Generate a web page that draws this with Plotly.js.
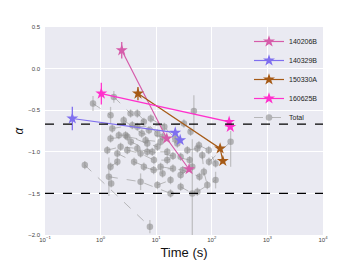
<!DOCTYPE html>
<html>
<head>
<meta charset="utf-8">
<script src="https://cdn.plot.ly/plotly-3.0.1.min.js"></script>
<style>html,body{margin:0;padding:0;background:#fff;}#chart{width:360px;height:270px;}</style>
</head>
<body>
<div id="chart"></div>
<script>
// ---- data ----
const burstNames = ['140206B', '140329B', '150330A', '160625B'];
const burstColors = ['#D65CAA', '#7F6FEF', '#A65A16', '#FF30CC'];

const t140206B = [2.4, 15.5, 39];
const a140206B = [0.22, -0.84, -1.21];
const e140206B = [0.1, 0.03, 0.03];

const t140329B = [0.31, 22, 27];
const a140329B = [-0.60, -0.77, -0.86];
const e140329B = [0.14, 0.03, 0.03];

const t150330A = [4.7, 141, 158];
const a150330A = [-0.30, -0.96, -1.11];
const e150330A = [0.08, 0.03, 0.03];

const t160625B = [1.03, 205, 215];
const a160625B = [-0.30, -0.64, -0.70];
const e160625B = [0.13, 0.03, 0.03];

const totalTime = [0.73,1.51,null, 1.73,3.46,6.0,null, 1.62,3.72,7.4,null, 1.51,3.02,6.45,12,null, 4.57,10.5,null, 4.57,31.5,41.5,null, 47.6,null, 58.7,88,117,null, 89,218,null, 2.13,2.81,6.9,10.5,null, 1.32,2.29,4.57,6.9,15.8,null, 36.3,55,null, 3.02,5.24,9.1,15.8,27.5,null, 67.3,72,83,null, 27.5,44.6,null, 10.5,18.1,null, 55,117,null, 1.41,5.24,18.1,null, 27.5,44.6,null, 1.51,2.0,null, 1.55,null, 0.52,7.7,null,
  2.0,4.0,9.0,20,null, 2.6,5.5,13,24,null, 8.0,14,22,null, 3.5,8.5,20,40,null, 12,30,60,null, 6.0,13];
const totalAlpha = [-0.42,-0.56,null, -0.34,-0.54,-0.64,null, -0.72,-0.68,-0.74,null, -0.84,-0.82,-0.86,-0.88,null, -0.54,-0.78,null, -0.70,-0.66,-0.76,null, -0.51,null, -0.92,-0.98,-1.14,null, -1.12,-0.88,null, -0.80,-0.80,-0.90,-0.94,null, -0.98,-0.94,-0.96,-1.00,-1.00,null, -0.98,-0.96,null, -0.98,-1.02,-1.10,-1.10,-1.06,null, -1.04,-1.24,-1.40,null, -1.28,-1.18,null, -1.40,-1.34,null, -1.48,-1.34,null, -1.30,-1.36,-1.50,null, -1.42,-1.50,null, -1.18,-1.12,null, -1.38,null, -1.16,-1.90,null,
  -1.02,-1.12,-1.22,-1.20,null, -0.62,-0.78,-0.82,-0.90,null, -0.60,-0.70,-0.84,null, -0.88,-1.00,-1.05,-1.10,null, -1.18,-1.22,-1.30,null, -1.18,-1.26];
const totalErrUp = [0.09,0.1,null, 0.07,0.05,0.05,null, 0.05,0.05,0.05,null, 0.05,0.05,0.05,0.05,null, 0.05,0.05,null, 0.05,0.05,0.05,null, 0.19,null, 0.05,0.05,0.05,null, 0.05,0.13,null, 0.05,0.05,0.05,0.05,null, 0.05,0.05,0.05,0.05,0.05,null, 0.05,0.05,null, 0.05,0.05,0.05,0.05,0.05,null, 0.05,0.05,0.05,null, 0.05,0.05,null, 0.05,0.05,null, 0.05,0.1,null, 0.23,0.1,0.05,null, 0.05,0.65,null, 0.05,0.05,null, 0.05,null, 0.05,0.08,null,
  0.05,0.05,0.05,0.05,null, 0.05,0.05,0.05,0.05,null, 0.05,0.05,0.05,null, 0.05,0.05,0.05,0.05,null, 0.05,0.05,0.05,null, 0.05,0.05];
const totalErrDown = [0.09,0.1,null, 0.07,0.05,0.05,null, 0.05,0.05,0.05,null, 0.05,0.05,0.05,0.05,null, 0.05,0.05,null, 0.05,0.05,0.05,null, 0.23,null, 0.05,0.05,0.05,null, 0.05,0.3,null, 0.05,0.05,0.05,0.05,null, 0.05,0.05,0.05,0.05,0.05,null, 0.05,0.05,null, 0.05,0.05,0.05,0.05,0.05,null, 0.05,0.05,0.05,null, 0.05,0.05,null, 0.05,0.05,null, 0.05,0.1,null, 0.23,0.1,0.05,null, 0.05,0.65,null, 0.05,0.05,null, 0.05,null, 0.05,0.08,null,
  0.05,0.05,0.05,0.05,null, 0.05,0.05,0.05,0.05,null, 0.05,0.05,0.05,null, 0.05,0.05,0.05,0.05,null, 0.05,0.05,0.05,null, 0.05,0.05];

const refLevels = [-2/3, -1.5];
const xTickVals = [0.1, 1, 10, 100, 1000, 10000];
const xTickText = ['10<sup>−1</sup>', '10<sup>0</sup>', '10<sup>1</sup>', '10<sup>2</sup>', '10<sup>3</sup>', '10<sup>4</sup>'];

// ---- traces ----
const FONT = 'Liberation Sans, Arial, sans-serif';
const traces = [];
traces.push({
  type: 'scatter', mode: 'lines+markers', name: 'Total',
  x: totalTime, y: totalAlpha, connectgaps: false,
  line: {color: 'rgba(160,160,160,0.7)', width: 1, dash: 'dash'},
  marker: {color: 'rgba(140,140,140,0.6)', size: 6.5, symbol: 'circle'},
  error_y: {type: 'data', symmetric: false, array: totalErrUp, arrayminus: totalErrDown,
            color: 'rgba(165,165,165,0.6)', thickness: 1.3, width: 0},
  legendrank: 1005
});
const bt = [t140206B, t140329B, t150330A, t160625B];
const ba = [a140206B, a140329B, a150330A, a160625B];
const be = [e140206B, e140329B, e150330A, e160625B];
burstNames.forEach((n, i) => {
  traces.push({
    type: 'scatter', mode: 'lines+markers', name: n,
    x: bt[i], y: ba[i],
    line: {color: burstColors[i], width: 1.2},
    marker: {color: burstColors[i], size: 9, symbol: 'star'},
    error_y: {type: 'data', array: be[i], color: burstColors[i], thickness: 1.3, width: 0},
    legendrank: 1000 + i
  });
});

const layout = {
  width: 360, height: 270,
  margin: {l: 45, r: 37, t: 27, b: 35},
  paper_bgcolor: '#ffffff', plot_bgcolor: '#EAEAF2',
  font: {family: FONT, color: '#333333', size: 6},
  showlegend: true,
  legend: {x: 1, xanchor: 'right', y: 1, yanchor: 'top', bgcolor: 'rgba(0,0,0,0)',
           font: {size: 7, color: '#222'}, itemwidth: 30, tracegroupgap: 0},
  xaxis: {type: 'log', range: [-1, 4], tickvals: xTickVals, ticktext: xTickText,
          gridcolor: '#ffffff', gridwidth: 1, zeroline: false, showline: false, ticks: '',
          tickfont: {size: 6, color: '#444'},
          title: {text: 'Time (s)', font: {size: 13, color: '#111'}, standoff: 5}},
  yaxis: {range: [-2, 0.5], dtick: 0.5, tick0: 0, tickformat: '.1f',
          gridcolor: '#ffffff', gridwidth: 1, zeroline: false, showline: false, ticks: '',
          tickfont: {size: 6, color: '#444'}, ticklabelstandoff: 4,
          title: {text: '<i>α</i>', font: {size: 12, color: '#111'}, standoff: 1}},
  shapes: refLevels.map(v => ({type: 'line', xref: 'paper', x0: 0, x1: 1, yref: 'y', y0: v, y1: v,
                               line: {color: '#000', width: 1.3, dash: 'dash'}, layer: 'above'}))
};

Plotly.newPlot('chart', traces, layout, {staticPlot: true, displayModeBar: false});
</script>
</body>
</html>
